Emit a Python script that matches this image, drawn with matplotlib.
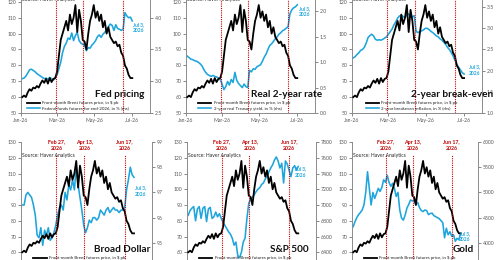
import matplotlib
matplotlib.use('Agg')
import matplotlib.pyplot as plt
import matplotlib.dates as mdates
import pandas as pd

plt.rcParams['font.family'] = ['Lato', 'DejaVu Sans']

# ---------------- data ----------------
dates = pd.date_range('2026-01-03', periods=61, freq='3D')

brent = [60, 61, 60, 63, 65, 64, 66, 65.5, 67, 66, 68.5, 70.5, 69, 71.5, 68.5, 72, 69.5, 71.5, 72,
         76, 86, 96, 100, 104, 108, 102, 112, 106, 110, 118, 101, 115, 108, 96, 95, 90, 100, 108, 112,
         118, 110, 114, 108, 112, 104, 108, 100, 104, 98, 96, 94, 95, 92, 93, 88, 86, 80, 78, 74, 72, 72]

fed_funds = [3.04, 3.05, 3.08, 3.13, 3.18, 3.19, 3.17, 3.15, 3.12, 3.10, 3.08, 3.06, 3.04, 3.05, 3.03,
             3.06, 3.04, 3.02, 3.05, 3.10, 3.20, 3.30, 3.45, 3.55, 3.60, 3.68, 3.66, 3.76, 3.64, 3.72,
             3.77, 3.64, 3.60, 3.58, 3.57, 3.48, 3.53, 3.52, 3.57, 3.60, 3.64, 3.70, 3.73, 3.69, 3.74,
             3.77, 3.81, 3.86, 3.90, 3.88, 3.80, 3.89, 3.83, 3.82, 3.80, 3.82, 4.08, 4.03, 4.00, 4.01, 3.95]

real_2y = [1.12, 1.09, 1.06, 1.05, 1.03, 1.02, 1.00, 0.97, 0.93, 0.86, 0.80, 0.76, 0.74, 0.72, 0.74,
           0.72, 0.71, 0.69, 0.66, 0.57, 0.46, 0.52, 0.62, 0.55, 0.66, 0.60, 0.80, 0.64, 0.58, 0.54,
           0.50, 0.57, 0.52, 0.50, 0.84, 0.81, 0.87, 0.86, 0.91, 0.93, 0.95, 1.02, 1.10, 1.16, 1.25,
           1.33, 1.36, 1.41, 1.46, 1.50, 1.55, 1.58, 1.62, 1.64, 1.67, 1.70, 1.95, 2.03, 2.07, 2.09, 2.13]

breakeven_2y = [2.30, 2.33, 2.38, 2.42, 2.48, 2.50, 2.55, 2.65, 2.78, 2.83, 2.86, 2.82, 2.74, 2.72, 2.73,
                2.72, 2.74, 2.77, 2.80, 2.86, 2.92, 2.98, 3.08, 3.15, 3.24, 3.29, 3.31, 3.28, 3.25, 3.32,
                3.34, 3.28, 3.27, 3.30, 2.93, 2.90, 2.92, 2.94, 2.96, 3.00, 3.00, 2.97, 2.93, 2.90, 2.86,
                2.82, 2.80, 2.75, 2.72, 2.67, 2.62, 2.55, 2.50, 2.43, 2.35, 2.25, 2.15, 2.08, 2.02, 1.95, 1.92]

broad_dollar = [96.5, 96.5, 96.9, 97.0, 96.9, 96.8, 96.5, 96.1, 95.3, 95.2, 95.6, 94.9, 95.5, 95.3, 95.6,
                95.1, 95.2, 95.4, 95.7, 96.1, 96.4, 96.5, 96.3, 97.0, 96.7, 97.3, 97.1, 97.5, 97.1, 98.0,
                97.3, 96.8, 96.3, 95.7, 95.4, 95.6, 95.9, 95.8, 96.0, 96.0, 95.9, 96.0, 96.3, 96.2, 96.1,
                96.3, 96.4, 96.2, 96.3, 96.4, 96.3, 96.3, 96.2, 96.3, 96.3, 96.4, 97.1, 97.5, 98.0, 97.7, 97.6]

sp500 = [6870, 6930, 6960, 6980, 6800, 6950, 6980, 6830, 6960, 6980, 6790, 6950, 6970, 6830, 6850,
         6910, 6850, 6890, 6830, 6780, 6740, 6700, 6660, 6630, 6580, 6490, 6530, 6360, 6330, 6400,
         6530, 6580, 6830, 7020, 7080, 7100, 7130, 7170, 7200, 7220, 7260, 7280, 7330, 7370, 7420,
         7470, 7510, 7570, 7610, 7560, 7470, 7530, 7280, 7560, 7520, 7440, 7360, 7470, 7500, 7440, 7490]

gold = [4320, 4420, 4500, 4560, 4600, 4650, 4750, 5000, 5410, 5080, 4750, 5000, 4880, 4980, 5080,
        5020, 5100, 5250, 5200, 5340, 5200, 5120, 5180, 5080, 4920, 5000, 4650, 4490, 4450, 4550,
        4690, 4760, 4850, 4830, 4850, 4760, 4800, 4700, 4640, 4620, 4650, 4640, 4560, 4580, 4590,
        4540, 4520, 4500, 4480, 4440, 4400, 4100, 4290, 4160, 4220, 4130, 4160, 4030, 4090, 4060, 4190]

event_dates = ['2026-02-27', '2026-04-13', '2026-06-17']
event_labels = ['Feb 27,\n2026', 'Apr 13,\n2026', 'Jun 17,\n2026']

brent_label = 'Front-month Brent futures price, in $ pb'
titles = ['Fed pricing', 'Real 2-year rate', '2-year break-even', 'Broad Dollar', 'S&P 500', 'Gold']
rhs_labels = ['Federal funds futures for end-2026, in % (rhs)',
              '2-year real Treasury yield, in % (rhs)',
              '2-year breakeven inflation, in % (rhs)',
              'Broad trade-weighted dollar index (rhs)',
              'S&P 500 index (rhs)',
              'Gold price, in $ per ounce (rhs)']
rhs_series = [fed_funds, real_2y, breakeven_2y, broad_dollar, sp500, gold]
rhs_limits = [(2.5, 4.5), (0.0, 2.5), (1.0, 4.0), (94, 99), (6200, 7800), (3500, 6000)]
rhs_ticks = [[2.5, 3.0, 3.5, 4.0, 4.5], [0.0, 0.5, 1.0, 1.5, 2.0, 2.5], [1.0, 1.5, 2.0, 2.5, 3.0, 3.5, 4.0],
             [94, 95, 96, 97, 98, 99], [6200, 6400, 6600, 6800, 7000, 7200, 7400, 7600, 7800],
             [3500, 4000, 4500, 5000, 5500, 6000]]
rhs_fmt = ['{:.1f}', '{:.1f}', '{:.1f}', '{:.0f}', '{:.0f}', '{:.0f}']
left_ticks = [50, 60, 70, 80, 90, 100, 110, 120, 130]
x_ticks = ['2026-01-01', '2026-03-01', '2026-05-01', '2026-07-01']

# ---------------- layout ----------------
BLUE = '#1ea5dc'
RED = '#c00000'
GRAY = '#595959'
SPINE = '#8c8c8c'

axes_pos = [
    [0.042, 0.5654, 0.258, 0.4885],
    [0.372, 0.5654, 0.258, 0.4885],
    [0.704, 0.5654, 0.260, 0.4885],
    [0.042, -0.0308, 0.262, 0.4846],
    [0.374, -0.0308, 0.258, 0.4846],
    [0.704, -0.0308, 0.252, 0.4846],
]
title_pos = [(0.953, 0.142), (1.054, 0.142), (1.085, 0.142), (0.99, 0.15), (0.94, 0.15), (0.97, 0.15)]
jul_pos = [(193, 103.6), (194, 113.7), (199, 77), (193, 98.8), (186, 111), (188, 70)]
legend_x = [0.02, 0.07, 0.08, 0.07, 0.07, 0.07]

fig = plt.figure(figsize=(5.0, 2.6), dpi=100)

jan1 = pd.Timestamp('2026-01-01')
for k in range(6):
    ax = fig.add_axes(axes_pos[k])
    tw = ax.twinx()
    ax.set_zorder(tw.get_zorder() + 1)
    ax.patch.set_visible(False)

    lb, = tw.plot(dates, rhs_series[k], color=BLUE, lw=1.15)
    lk, = ax.plot(dates, brent, color='black', lw=1.3, zorder=3)

    ax.set_ylim(50, 130)
    ax.set_yticks(left_ticks)
    tw.set_ylim(*rhs_limits[k])
    tw.set_yticks(rhs_ticks[k])
    tw.set_yticklabels([rhs_fmt[k].format(v) for v in rhs_ticks[k]])

    ax.set_xlim(pd.Timestamp('2026-01-01'), pd.Timestamp('2026-07-31'))
    ax.set_xticks(pd.to_datetime(x_ticks))
    ax.xaxis.set_major_formatter(mdates.DateFormatter('%b-%y'))

    for a in (ax, tw):
        a.spines['top'].set_visible(False)
        for s in ('left', 'right', 'bottom'):
            a.spines[s].set_color(SPINE)
            a.spines[s].set_linewidth(0.6)
        a.tick_params(axis='both', labelsize=3.7, colors=GRAY, length=2, width=0.5, pad=1.5)

    for d, lab in zip(event_dates, event_labels):
        dt = pd.Timestamp(d)
        ax.plot([dt, dt], [50, 122], color=RED, lw=0.8, ls=(0, (1, 1)), zorder=5)
        ax.text(dt, 128, lab, color=RED, fontsize=3.8, fontweight='bold',
                ha='center', va='center', linespacing=1.3, zorder=6)

    ax.text(0.01, 0.895, 'Source: Haver Analytics', transform=ax.transAxes,
            fontsize=3.6, color='#222222', ha='left', va='center', zorder=6)

    jx, jy = jul_pos[k]
    ax.text(jan1 + pd.Timedelta(days=jx), jy, 'Jul 3,\n2026', color=BLUE, fontsize=3.5,
            fontweight='bold', ha='center', va='center', linespacing=1.3, zorder=6)

    tx, ty = title_pos[k]
    ax.text(tx, ty, titles[k], transform=ax.transAxes, fontsize=7.2, fontweight='bold',
            color='#111111', ha='right', va='center', zorder=7)

    leg = ax.legend([lk, lb], [brent_label, rhs_labels[k]], loc='lower left',
                    bbox_to_anchor=(legend_x[k], -0.005), fontsize=3.2, frameon=False,
                    handlelength=3.0, handletextpad=0.5, borderpad=0.2, labelspacing=0.25)
    for t in leg.get_texts():
        t.set_color('#222222')
    leg.set_zorder(8)

fig.savefig('out.png', dpi=100)
